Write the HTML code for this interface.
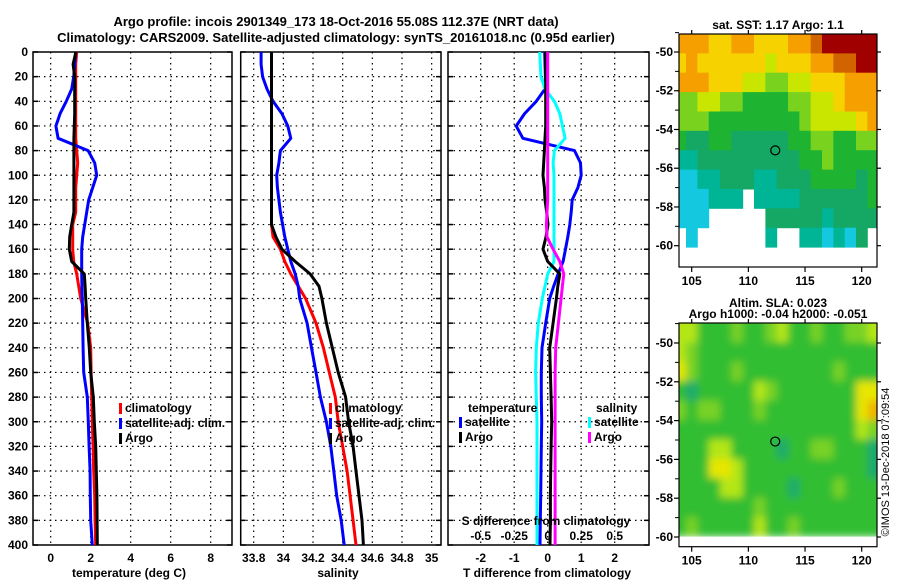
<!DOCTYPE html>
<html><head><meta charset="utf-8"><style>
html,body{margin:0;padding:0;background:#fff;}
svg{display:block;font-family:"Liberation Sans",sans-serif;font-weight:bold;}
</style></head><body>
<svg id="c" width="900" height="580" viewBox="0 0 900 580" xmlns="http://www.w3.org/2000/svg">
<defs>
<filter id="blur" x="-5%" y="-5%" width="110%" height="110%"><feGaussianBlur stdDeviation="4"/></filter>
<clipPath id="slaclip"><rect x="679" y="323" width="198" height="213.6"/></clipPath>
</defs>
</svg>
<script>
const depths=[0,10,20,30,40,50,60,70,80,90,100,110,120,130,140,150,160,170,180,190,200,220,240,260,280,300,320,340,360,380,400];
const tempClim=[1.3,1.25,1.25,1.25,1.25,1.25,1.25,1.25,1.3,1.35,1.3,1.25,1.25,1.25,1.1,1.1,1.1,1.15,1.3,1.4,1.5,1.85,2.0,2.02,2.05,2.08,2.12,2.15,2.2,2.22,2.25];
const tempSat=[1.25,1.2,1.15,1.05,0.78,0.47,0.26,0.37,1.87,2.2,2.3,2.1,1.9,1.8,1.7,1.6,1.55,1.55,1.55,1.56,1.58,1.6,1.62,1.65,1.83,1.88,1.92,1.97,1.98,2.0,2.08];
const tempArgo=[1.26,1.12,1.2,1.2,1.2,1.2,1.18,1.16,1.16,1.16,1.16,1.16,1.16,1.16,1.05,0.95,0.93,1.05,1.68,1.72,1.75,1.83,1.93,2.0,2.13,2.18,2.25,2.28,2.31,2.32,2.33];
const salClim=[33.92,33.92,33.92,33.92,33.92,33.92,33.92,33.92,33.92,33.92,33.92,33.92,33.92,33.92,33.92,33.93,33.98,34.01,34.05,34.10,34.15,34.22,34.27,34.31,34.35,34.37,34.40,34.43,34.45,34.47,34.49];
const salSat=[33.85,33.85,33.86,33.89,33.93,33.99,34.03,34.05,33.98,33.97,33.955,33.96,33.97,33.98,33.995,34.01,34.03,34.05,34.08,34.1,34.11,34.16,34.19,34.22,34.25,34.29,34.32,34.34,34.36,34.39,34.41];
const salArgo=[33.92,33.92,33.92,33.92,33.92,33.92,33.92,33.92,33.92,33.92,33.92,33.92,33.92,33.92,33.92,33.95,33.99,34.08,34.18,34.24,34.26,34.29,34.33,34.37,34.42,34.44,34.47,34.49,34.51,34.53,34.54];
const dTSat=[-0.09,-0.08,-0.07,-0.08,-0.34,-0.69,-0.94,-0.74,0.8,0.98,1.0,0.9,0.73,0.7,0.66,0.6,0.53,0.46,0.31,0.18,0.06,-0.06,-0.17,-0.19,-0.19,-0.18,-0.19,-0.2,-0.21,-0.22,-0.23];
const dTArgo=[-0.06,-0.06,-0.06,-0.06,-0.06,-0.06,-0.06,-0.08,-0.1,-0.12,-0.14,-0.1,-0.08,-0.03,0.01,-0.05,-0.14,0.0,0.36,0.3,0.26,0.16,0.06,0.08,0.1,0.12,0.1,0.09,0.08,0.08,0.07];
const dSSat=[-0.06,-0.055,-0.05,-0.02,0.05,0.09,0.11,0.13,0.05,0.04,0.047,0.047,0.047,0.047,0.047,0.047,0.047,0.047,0.0,-0.02,-0.04,-0.07,-0.085,-0.09,-0.085,-0.08,-0.08,-0.08,-0.08,-0.08,-0.08];
const dSArgo=[0.0,0.0,0.0,0.0,0.0,0.0,0.0,0.0,0.0,0.0,0.0,0.0,0.0,-0.005,-0.01,-0.005,0.04,0.09,0.12,0.11,0.1,0.08,0.06,0.055,0.055,0.055,0.055,0.055,0.055,0.055,0.055];
const depthTicks=[0,20,40,60,80,100,120,140,160,180,200,220,240,260,280,300,320,340,360,380,400];
const tempTicks=[0,2,4,6,8];
const salTicks=[33.8,34,34.2,34.4,34.6,34.8,35];
const salTickLabels=["33.8","34","34.2","34.4","34.6","34.8","35"];
const dTTicks=[-2,-1,0,1,2];
const dSTicks=[-0.5,-0.25,0,0.25,0.5];
const dSTickLabels=["-0.5","-0.25","0","0.25","0.5"];
const mapLonTicks=[105,110,115,120];
const mapLatTicks=[-50,-52,-54,-56,-58,-60];
const sstGrid=[
[8,8,8,7,7,8,8,7,7,7,8,8,9,10,10,10,10,10],
[7,8,7,7,7,7,7,7,6,7,7,7,8,8,9,9,10,10],
[8,8,8,7,7,7,6,6,5,5,6,6,7,7,7,8,8,8],
[5,5,6,6,5,5,4,4,4,4,5,5,6,6,7,8,8,8],
[5,5,5,4,4,4,4,4,4,4,4,5,6,6,6,6,7,8],
[4,3,3,4,4,3,3,3,3,3,4,4,5,5,4,4,5,5],
[2,2,3,3,3,3,3,3,3,3,3,4,4,5,4,4,4,4],
[1,1,2,2,3,3,3,2,2,3,3,3,4,4,4,4,3,4],
[1,1,1,2,2,2,-1,2,2,2,2,3,3,3,3,3,3,4],
[1,1,1,-1,-1,-1,-1,-1,3,3,3,3,3,2,3,3,3,3],
[-1,1,-1,-1,-1,-1,-1,-1,2,-1,-1,2,2,1,2,1,3,-1],
[-1,-1,-1,-1,-1,-1,-1,-1,-1,-1,-1,-1,-1,-1,-1,-1,-1,-1]];
const slaGrid=[
[6,6,4,4,4,5,4,4,5,6,4,4,5,4,4,5,5,6],
[6,5,4,4,4,4,4,4,4,4,4,4,4,4,4,4,4,4],
[7,5,4,4,4,5,4,4,4,4,4,4,4,4,5,4,4,4],
[4,3,4,4,4,4,4,6,5,4,4,4,4,4,4,4,7,7],
[5,4,5,5,4,4,4,5,4,4,4,4,4,4,4,4,7,8],
[4,4,4,4,4,4,4,4,4,4,4,4,4,4,4,4,6,5],
[4,4,4,6,6,4,4,4,4,3,4,4,5,5,4,4,4,3],
[4,4,4,7,7,6,4,4,4,4,4,4,4,4,4,4,4,3],
[4,4,4,4,6,6,4,4,4,4,3,4,4,4,5,4,4,4],
[4,4,4,4,4,4,4,5,4,4,4,4,4,4,4,4,4,4],
[4,5,4,4,4,4,4,6,4,4,5,4,4,4,4,4,4,4]];
const sstPalette=["#0a6de8","#14c8e0","#00b496","#14a864","#1eb432","#78d21e","#c8e600","#f5d200","#f5a000","#d26400","#a00000"];
const slaPalette=["#0a6de8","#14c8e0","#1eaa8c","#1eaa6e","#32be32","#78d228","#b4e614","#e6e600","#f0b400"];

const NS="http://www.w3.org/2000/svg";
const svg=document.getElementById('c');
function mk(tag,attrs,parent){const e=document.createElementNS(NS,tag);for(const k in attrs)e.setAttribute(k,attrs[k]);(parent||svg).appendChild(e);return e;}
function txt(s,x,y,anchor,size,parent){const t=mk('text',{x:x,y:y,'text-anchor':anchor||'middle','font-size':size||12},parent);t.textContent=s;return t;}

const Y0=52,Y1=545;
const yD=d=>Y0+(Y1-Y0)*d/400;
const xT=v=>50.7+20*v;
const xS=v=>253.7+148.3*(v-33.8);
const xDT=v=>547.7+33.5*v;
const xDS=v=>547.7+134*v;

let t=txt("Argo profile: incois 2901349_173 18-Oct-2016 55.08S 112.37E (NRT data)",336,26,'middle',13);


t=txt("Climatology: CARS2009. Satellite-adjusted climatology: synTS_20161018.nc (0.95d earlier)",336,42,'middle',13);



function panel(name,x0,x1,gridXs){
  const g=mk('g',{});
  
  
  gridXs.forEach(x=>mk('line',{x1:x,x2:x,y1:Y0,y2:Y1,stroke:'#000','stroke-width':1.2,'stroke-dasharray':'1.5,4'},g));
  depthTicks.forEach(d=>{
    if(d>0&&d<400)mk('line',{x1:x0,x2:x1,y1:yD(d),y2:yD(d),stroke:'#000','stroke-width':1.2,'stroke-dasharray':'1.5,4'},g);
    mk('line',{x1:x0,x2:x0+5,y1:yD(d),y2:yD(d),stroke:'#000','stroke-width':1.5},g);
    mk('line',{x1:x1-5,x2:x1,y1:yD(d),y2:yD(d),stroke:'#000','stroke-width':1.5},g);
  });
  mk('rect',{x:x0,y:Y0,width:x1-x0,height:Y1-Y0,fill:'none',stroke:'#000','stroke-width':1.5},g);
  return g;
}
function line(g,vals,fx,color,w,name){
  const pts=vals.map((v,i)=>fx(v).toFixed(1)+','+yD(depths[i]).toFixed(1)).join(' ');
  const p=mk('polyline',{points:pts,fill:'none',stroke:color,'stroke-width':w,'stroke-linejoin':'round'},g);
  
  
}
function legend(g,items,x,y){
  items.forEach((it,i)=>{
    mk('rect',{x:x,y:y+i*15-9,width:3,height:11,fill:it[1]},g);
    const tt=txt(it[0],x+6,y+i*15,'start',12,g);
    
    
  });
}

const dl=mk('g',{});


depthTicks.forEach(d=>txt(String(d),28,yD(d)+4,'end',12,dl));

const p1=panel('temperature-panel',33,232,tempTicks.map(xT));
line(p1,tempClim,xT,'#ff0000',3,'climatology-temp-line');
line(p1,tempSat,xT,'#0000ff',3,'satellite-temp-line');
line(p1,tempArgo,xT,'#000000',3,'argo-temp-line');
tempTicks.forEach(v=>txt(String(v),xT(v),562,'middle',12,p1));
t=txt("temperature (deg C)",129,577,'middle',12,p1);
legend(p1,[["climatology","#ff0000"],["satellite-adj. clim.","#0000ff"],["Argo","#000"]],119,412);

const p2=panel('salinity-panel',240.7,441,salTicks.map(xS));
line(p2,salClim,xS,'#ff0000',3,'climatology-salinity-line');
line(p2,salSat,xS,'#0000ff',3,'satellite-salinity-line');
line(p2,salArgo,xS,'#000000',3,'argo-salinity-line');
salTicks.forEach((v,i)=>txt(salTickLabels[i],xS(v),562,'middle',12,p2));
t=txt("salinity",338,577,'middle',12,p2);
legend(p2,[["climatology","#ff0000"],["satellite-adj. clim.","#0000ff"],["Argo","#000"]],329,412);

const p3=panel('difference-panel',448,649,dTTicks.map(xDT));
line(p3,dTSat,xDT,'#0000ff',3,'satellite-temp-diff-line');
line(p3,dSSat,xDS,'#00ffff',3,'satellite-salinity-diff-line');
line(p3,dTArgo,xDT,'#000000',3,'argo-temp-diff-line');
line(p3,dSArgo,xDS,'#ff00ff',3,'argo-salinity-diff-line');
dTTicks.forEach(v=>txt(String(v),xDT(v),562,'middle',12,p3));
dSTicks.forEach((v,i)=>txt(dSTickLabels[i],xDS(v),540,'middle',12,p3));
t=txt("S difference from climatology",546,525,'middle',12,p3);
t=txt("T difference from climatology",547,577,'middle',12,p3);
txt("temperature",468,412,'start',12,p3);
legend(p3,[["satellite","#0000ff"],["Argo","#000"]],459,426);
txt("salinity",596,412,'start',12,p3);
legend(p3,[["satellite","#00ffff"],["Argo","#ff00ff"]],588,426);

function map(name,grid,palette,top,bot,latTop,latBot,title1,title2,smooth){
  const L=679,R=877;
  const xL=lon=>691.7+(lon-105)*11.333;
  const yL=(lat)=>top+(latTop-lat)*(bot-top)/(latTop-latBot);
  const g=mk('g',{});
  
  
  mk('rect',{x:L,y:top,width:R-L,height:bot-top,fill:'#fff'},g);
  let cg=g;
  if(smooth){
    const clip=mk('g',{'clip-path':'url(#slaclip)'},g);
    cg=mk('g',{filter:'url(#blur)'},clip);
  }
  const cw=11.333,ch=(bot-top)/(latTop-latBot);
  grid.forEach((row,r)=>row.forEach((v,c)=>{
    if(v<0)return;
    let x=xL(103.5+c),y=yL(latTop-r),w=cw,h=ch;
    if(smooth){ if(c===0){x-=8;w+=8;} if(c===row.length-1){w+=8;} if(r===0){y-=8;h+=8;} }
    else { const x0=Math.max(L,x); w=Math.min(R,x+cw)-x0; x=x0; }
    const rc=mk('rect',{x:x.toFixed(1),y:y.toFixed(1),width:(w+0.5).toFixed(1),height:(h+0.5).toFixed(1),fill:palette[v]},cg);
    
    
  }));
  mk('rect',{x:L,y:top,width:R-L,height:bot-top,fill:'none',stroke:'#000','stroke-width':1.2},g);
  mk('circle',{cx:xL(112.37),cy:yL(-55.08),r:4.5,fill:'none',stroke:'#000','stroke-width':1.2},g);
  mapLatTicks.forEach(lat=>{
    const y=yL(lat);
    mk('line',{x1:L-5,x2:L,y1:y,y2:y,stroke:'#000','stroke-width':1.2},g);
    mk('line',{x1:R,x2:R+4,y1:y,y2:y,stroke:'#000','stroke-width':1.2},g);
    mk('line',{x1:L-4,x2:L,y1:yL(lat+1),y2:yL(lat+1),stroke:'#000','stroke-width':1},g);
    txt(String(lat),673,y+4,'end',12,g);
  });
  mapLonTicks.forEach(lon=>{
    mk('line',{x1:xL(lon),x2:xL(lon),y1:bot,y2:bot+5,stroke:'#000','stroke-width':1.2},g);
    mk('line',{x1:xL(lon),x2:xL(lon),y1:top-4,y2:top,stroke:'#000','stroke-width':1.2},g);
    txt(String(lon),xL(lon),bot+18,'middle',12,g);
  });
  if(title1)txt(title1,778,top-16,'middle',12,g);
  txt(title2,778,top-5,'middle',12,g);
}
map('sst-map',sstGrid,sstPalette,34,267,-49.07,-61.1,null,"sat. SST: 1.17 Argo: 1.1",false);
map('sla-map',slaGrid,slaPalette,323,546.7,-48.97,-60.5,"Altim. SLA: 0.023","Argo h1000: -0.04 h2000: -0.051",true);

t=txt("\u00a9IMOS 13-Dec-2018 07:09:54",0,0,'middle',11);
t.setAttribute('transform','translate(889,462) rotate(-90)');
t.setAttribute('font-weight','normal');


</script>
</body></html>
